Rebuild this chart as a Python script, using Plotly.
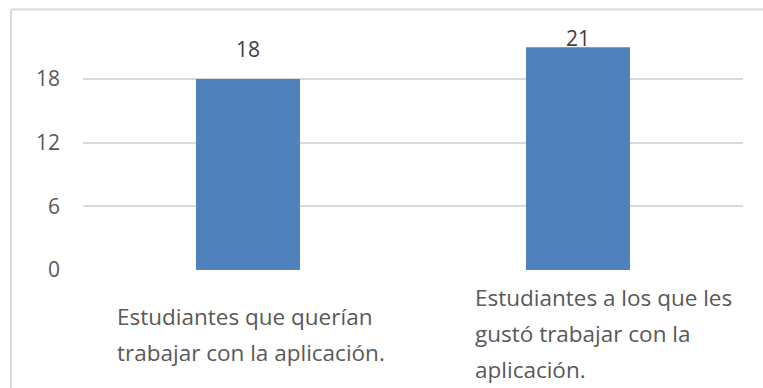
import plotly.graph_objects as go

categories = ["Estudiantes que querían trabajar con la aplicación.",
              "Estudiantes a los que les gustó trabajar con la aplicación."]
label_lines = [["Estudiantes que querían", "trabajar con la aplicación."],
               ["Estudiantes a los que les", "gustó trabajar con la", "aplicación."]]
values = [18, 21]
y_ticks = [0, 6, 12, 18]

W, H = 763, 388
L, R, T, B = 83, 20, 31, 118
plot_w = W - L - R
plot_h = H - T - B
FONT = "Open Sans"

fig = go.Figure()
fig.add_trace(go.Bar(x=categories, y=values, marker=dict(color="#4F81BD", line=dict(width=0)),
                     hoverinfo="skip"))

label_shift = [30, 9]
for c, v, s in zip(categories, values, label_shift):
    fig.add_annotation(x=c, y=v, text=str(v), showarrow=False, yanchor="middle", yshift=s,
                       font=dict(family=FONT, size=21, color="#404040"))

x_shift = [-133, -105]
line_gap = 36
mid_shift = [-64.5, -63]
for c, lines, xs, ms in zip(categories, label_lines, x_shift, mid_shift):
    n = len(lines)
    for i, ln in enumerate(lines):
        ys = ms + (i - (n - 1) / 2) * (-line_gap)
        fig.add_annotation(x=c, y=0, text=ln, showarrow=False, xanchor="left", yanchor="middle",
                           xshift=xs, yshift=ys, font=dict(family=FONT, size=22.5, color="#595959"))

def px_x(p):
    return (p - L) / plot_w

def px_y(p):
    return (H - B - p) / plot_h

border = dict(color="#d9d9d9", width=2)
fig.add_shape(type="line", xref="paper", yref="paper", x0=px_x(11), x1=px_x(W + 5),
              y0=px_y(9.5), y1=px_y(9.5), line=border)
fig.add_shape(type="line", xref="paper", yref="paper", x0=px_x(11), x1=px_x(11),
              y0=px_y(9.5), y1=px_y(H + 5), line=border)

fig.update_layout(
    width=W, height=H, margin=dict(l=L, r=R, t=T, b=B),
    paper_bgcolor="white", plot_bgcolor="white",
    bargap=0.685, showlegend=False,
    font=dict(family=FONT, size=21, color="#595959"),
    xaxis=dict(showticklabels=False, showgrid=False, zeroline=False, showline=False),
    yaxis=dict(range=[0, 18 * plot_h / 191], tickvals=y_ticks, ticktext=[str(t) for t in y_ticks],
               showgrid=True, gridcolor="#d9d9d9", gridwidth=2, zeroline=False, showline=False,
               ticklabelstandoff=22, tickfont=dict(family=FONT, size=21, color="#595959")),
)

fig.write_html("out.html")
